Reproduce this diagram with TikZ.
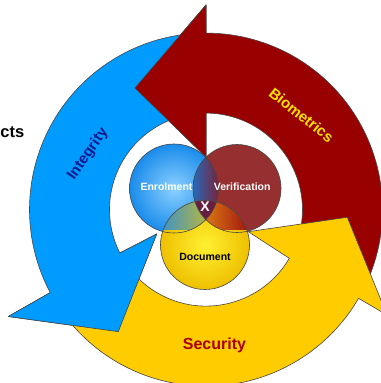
\documentclass[tikz,border=0pt]{standalone}
\usepackage{fontspec}
\setmainfont{Liberation Sans}
\definecolor{redarrow}{RGB}{153,0,0}
\definecolor{bluearrow}{RGB}{0,155,255}
\definecolor{yellowarrow}{RGB}{255,204,0}
\definecolor{edgegray}{RGB}{70,70,70}
\definecolor{biotext}{RGB}{255,226,0}
\definecolor{sectext}{RGB}{170,0,0}
\definecolor{inttext}{RGB}{15,25,140}
\definecolor{verfill}{RGB}{150,48,48}
\definecolor{enrolin}{RGB}{140,208,255}
\definecolor{enrolout}{RGB}{25,140,235}
\definecolor{docin}{RGB}{255,240,50}
\definecolor{docout}{RGB}{238,192,0}
\definecolor{evleft}{RGB}{40,105,185}
\definecolor{evright}{RGB}{120,35,60}
\definecolor{edleft}{RGB}{60,145,200}
\definecolor{edright}{RGB}{205,190,40}
\definecolor{vdleft}{RGB}{230,140,20}
\definecolor{vdright}{RGB}{160,20,15}
\definecolor{triple}{RGB}{105,30,65}
\tikzset{
  arrowedge/.style={draw=edgegray, line width=0.6bp, line join=round},
  circleedge/.style={draw=edgegray, line width=0.6bp},
  bigtext/.style={font=\fontsize{15bp}{17bp}\selectfont\bfseries},
  smalltext/.style={font=\fontsize{10.5bp}{12bp}\selectfont\bfseries},
}
\begin{document}
\begin{tikzpicture}[x=1bp,y=1bp]
\useasboundingbox (0,0) rectangle (381,383);
\clip (0,0) rectangle (381,383);
\node[font=\fontsize{16.5bp}{18bp}\selectfont\bfseries, anchor=base east, inner sep=0pt] (tcts) at (24.5,246) {cts};
\begin{scope}[shift={(206,173.4)}]
  % full arrows
  \path[arrowedge, fill=redarrow] (-25:96.5) -- (-25:176.5)
    arc[start angle=-25, end angle=90, radius=176.5]
    -- (90:204.6) -- (120.3:140.8) -- (90:52.6) -- (90:96.5)
    arc[start angle=90, end angle=-25, radius=96.5] -- cycle;
  \path[arrowedge, fill=bluearrow] (94:96.5) -- (94:176.5)
    arc[start angle=94, end angle=208.05, radius=176.5]
    -- (208.4:224.8) -- (234.3:150.3) -- (206.3:55) -- (206.75:96.5)
    arc[start angle=206.75, end angle=94, radius=96.5] -- cycle;
  \path[arrowedge, fill=yellowarrow] (214:96.5) -- (214:176.5)
    arc[start angle=214, end angle=329.8, radius=176.5]
    -- (329.8:209.5) -- (356.9:141.5) -- (332.4:47.7) -- (329.7:96.5)
    arc[start angle=329.7, end angle=214, radius=96.5] -- cycle;
  % heads on top of the next tail
  \fill[redarrow] (90:176.5) -- (90:204.6) -- (120.3:140.8) -- (90:52.6) -- (90:96.5) -- cycle;
  \draw[arrowedge] (90:176.5) -- (90:204.6) -- (120.3:140.8) -- (90:52.6) -- (90:96.5);
  \fill[bluearrow] (208.05:176.5) -- (208.4:224.8) -- (234.3:150.3) -- (206.3:55) -- (206.75:96.5) -- cycle;
  \draw[arrowedge] (208.05:176.5) -- (208.4:224.8) -- (234.3:150.3) -- (206.3:55) -- (206.75:96.5);
  % arrow labels
  \node[bigtext, text=biotext, rotate=-38.5] (tbio) at (95.5,94.6) {Biometrics};
  \node[bigtext, text=inttext, rotate=55] (tint) at (-118,55.6) {Integrity};
  \node[text=sectext, font=\fontsize{16bp}{18bp}\selectfont\bfseries] (tsec) at (8.5,-135.4) {Security};
  % circles
  \coordinate (cE) at (-32,21.1);
  \coordinate (cV) at (31,21.1);
  \coordinate (cD) at (-1,-35.4);
  \shade[inner color=enrolin, outer color=enrolout] (cE) circle[radius=44.5];
  \fill[verfill] (cV) circle[radius=44];
  \shade[inner color=docin, outer color=docout] (cD) circle[radius=44.5];
  \begin{scope}
    \clip (cE) circle[radius=44.5];
    \clip (cV) circle[radius=44];
    \shade[left color=evleft, right color=evright] (-13,-25) rectangle (12.5,70);
  \end{scope}
  \begin{scope}
    \clip (cE) circle[radius=44.5];
    \clip (cD) circle[radius=44.5];
    \shade[left color=edleft, right color=edright] (-45,-20) rectangle (10,25);
  \end{scope}
  \begin{scope}
    \clip (cV) circle[radius=44];
    \clip (cD) circle[radius=44.5];
    \shade[left color=vdleft, right color=vdright] (-10,-20) rectangle (43,25);
  \end{scope}
  \begin{scope}
    \clip (cE) circle[radius=44.5];
    \clip (cV) circle[radius=44];
    \fill[triple] (cD) circle[radius=44.5];
  \end{scope}
  \draw[circleedge] (cE) circle[radius=44.5];
  \draw[circleedge] (cV) circle[radius=44];
  \draw[circleedge] (cD) circle[radius=44.5];
  \node[smalltext, text=white] (tenrol) at (-39.5,22.4) {Enrolment};
  \node[smalltext, text=white] (tver) at (36.2,22.4) {Verification};
  \node[smalltext, text=black] (tdoc) at (-1,-47.1) {Document};
  \node[font=\fontsize{14bp}{16bp}\selectfont\bfseries, text=white] (tx) at (-1,2.9) {X};
\end{scope}
\end{tikzpicture}
\end{document}
